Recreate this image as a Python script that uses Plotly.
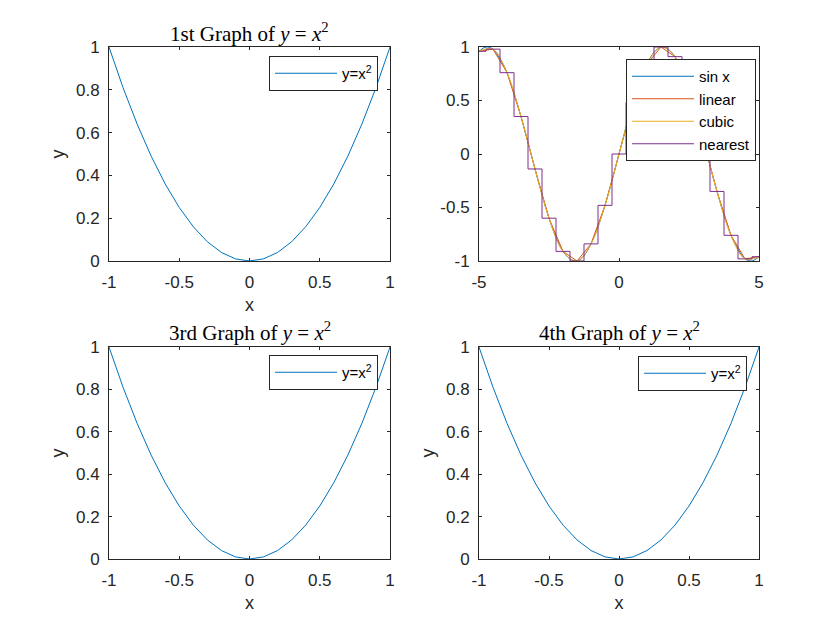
import plotly.graph_objects as go

# ---- data ----
x_sq = [-1.0, -0.9, -0.8, -0.7, -0.6, -0.5, -0.4, -0.3, -0.2, -0.1, 0.0,
        0.1, 0.2, 0.3, 0.4, 0.5, 0.6, 0.7, 0.8, 0.9, 1.0]
y_sq = [1.0, 0.81, 0.64, 0.49, 0.36, 0.25, 0.16, 0.09, 0.04, 0.01, 0.0,
        0.01, 0.04, 0.09, 0.16, 0.25, 0.36, 0.49, 0.64, 0.81, 1.0]

x_fine = [-5.0, -4.75, -4.5, -4.25, -4.0, -3.75, -3.5, -3.25, -3.0, -2.75, -2.5,
          -2.25, -2.0, -1.75, -1.5, -1.25, -1.0, -0.75, -0.5, -0.25, 0.0,
          0.25, 0.5, 0.75, 1.0, 1.25, 1.5, 1.75, 2.0, 2.25, 2.5,
          2.75, 3.0, 3.25, 3.5, 3.75, 4.0, 4.25, 4.5, 4.75, 5.0]
y_sin = [0.96, 1.00, 0.98, 0.89, 0.76, 0.57, 0.35, 0.11, -0.14, -0.38, -0.60,
         -0.78, -0.91, -0.98, -1.00, -0.95, -0.84, -0.68, -0.48, -0.25, 0.0,
         0.25, 0.48, 0.68, 0.84, 0.95, 1.00, 0.98, 0.91, 0.78, 0.60,
         0.38, 0.14, -0.11, -0.35, -0.57, -0.76, -0.89, -0.98, -1.00, -0.96]

x_coarse = [-5.0, -4.5, -4.0, -3.5, -3.0, -2.5, -2.0, -1.5, -1.0, -0.5, 0.0,
            0.5, 1.0, 1.5, 2.0, 2.5, 3.0, 3.5, 4.0, 4.5, 5.0]
y_coarse = [0.96, 0.98, 0.76, 0.35, -0.14, -0.60, -0.91, -1.00, -0.84, -0.48, 0.0,
            0.48, 0.84, 1.00, 0.91, 0.60, 0.14, -0.35, -0.76, -0.98, -0.96]

titles = ["1st Graph of <i>y</i> = <i>x</i><sup>2</sup>",
          "3rd Graph of <i>y</i> = <i>x</i><sup>2</sup>",
          "4th Graph of <i>y</i> = <i>x</i><sup>2</sup>"]
sq_ticks = [-1, -0.5, 0, 0.5, 1]
sq_yticks = [0, 0.2, 0.4, 0.6, 0.8, 1]
sin_xticks = [-5, 0, 5]
sin_yticks = [-1, -0.5, 0, 0.5, 1]

BLUE = "#0072BD"
RED = "#D95319"
YEL = "#EDB120"
PUR = "#7E2F8E"
AX = "#262626"
FONT = "Liberation Sans, Arial, sans-serif"

W, H = 840, 630
cols = [(109, 390), (479, 759)]
rows = [(47, 261), (347, 559)]

def dom_x(c):
    return [cols[c][0] / W, cols[c][1] / W]

def dom_y(r):
    return [1 - rows[r][1] / H, 1 - rows[r][0] / H]

fig = go.Figure()

# panel 1 (x,y)
fig.add_trace(go.Scatter(x=x_sq, y=y_sq, mode="lines", name="y=x<sup>2</sup>",
                         line=dict(color=BLUE, width=1), xaxis="x", yaxis="y",
                         legend="legend"))
# panel 2
fig.add_trace(go.Scatter(x=x_fine, y=y_sin, mode="lines", name="sin x",
                         line=dict(color=BLUE, width=1, shape="spline"),
                         xaxis="x2", yaxis="y2", legend="legend2"))
fig.add_trace(go.Scatter(x=x_coarse, y=y_coarse, mode="lines", name="linear",
                         line=dict(color=RED, width=1),
                         xaxis="x2", yaxis="y2", legend="legend2"))
fig.add_trace(go.Scatter(x=x_coarse, y=y_coarse, mode="lines", name="cubic",
                         line=dict(color=YEL, width=1, shape="spline"),
                         xaxis="x2", yaxis="y2", legend="legend2"))
fig.add_trace(go.Scatter(x=x_coarse, y=y_coarse, mode="lines", name="nearest",
                         line=dict(color=PUR, width=1, shape="hvh"),
                         xaxis="x2", yaxis="y2", legend="legend2"))
# panel 3
fig.add_trace(go.Scatter(x=x_sq, y=y_sq, mode="lines", name="y=x<sup>2</sup>",
                         line=dict(color=BLUE, width=1), xaxis="x3", yaxis="y3",
                         legend="legend3"))
# panel 4
fig.add_trace(go.Scatter(x=x_sq, y=y_sq, mode="lines", name="y=x<sup>2</sup>",
                         line=dict(color=BLUE, width=1), xaxis="x4", yaxis="y4",
                         legend="legend4"))

def axis(domain, anchor, rng, ticks, is_x, title=None):
    d = dict(domain=domain, anchor=anchor, range=rng, tickvals=ticks,
             ticktext=[("%g" % t) for t in ticks], automargin=False,
             showline=True, linecolor=AX, linewidth=1, mirror="ticks",
             ticks="inside", ticklen=3, tickcolor=AX, tickwidth=1,
             showgrid=False, zeroline=False,
             ticklabelstandoff=(6 if is_x else 5),
             tickfont=dict(family=FONT, size=17, color=AX))
    if title:
        d["title"] = dict(text=title, font=dict(family=FONT, size=18, color=AX),
                          standoff=(6 if is_x else 6))
    return d

layout_axes = dict(
    xaxis=axis(dom_x(0), "y", [-1, 1], sq_ticks, True, "x"),
    yaxis=axis(dom_y(0), "x", [0, 1], sq_yticks, False, "y"),
    xaxis2=axis(dom_x(1), "y2", [-5, 5], sin_xticks, True),
    yaxis2=axis(dom_y(0), "x2", [-1, 1], sin_yticks, False),
    xaxis3=axis(dom_x(0), "y3", [-1, 1], sq_ticks, True, "x"),
    yaxis3=axis(dom_y(1), "x3", [0, 1], sq_yticks, False, "y"),
    xaxis4=axis(dom_x(1), "y4", [-1, 1], sq_ticks, True, "x"),
    yaxis4=axis(dom_y(1), "x4", [0, 1], sq_yticks, False, "y"),
)

def leg(xr, yt):
    return dict(x=xr / W, y=1 - yt / H, xanchor="right", yanchor="top",
                bgcolor="white", bordercolor=AX, borderwidth=1,
                font=dict(family=FONT, size=15, color="black"),
                itemwidth=62, tracegroupgap=0)

title_specs = [(titles[0], (109 + 390) / 2, 32),
               (titles[1], (109 + 390) / 2, 331),
               (titles[2], (479 + 759) / 2, 331)]
annotations = []
for txt, cx, cy in title_specs:
    annotations.append(dict(text=txt, x=cx / W, y=1 - cy / H, xref="paper",
                            yref="paper", xanchor="center", yanchor="middle",
                            showarrow=False,
                            font=dict(family="Liberation Serif, Times New Roman, serif",
                                      size=21, color="black")))

fig.update_layout(
    width=W, height=H, margin=dict(l=0, r=0, t=0, b=0, autoexpand=False),
    paper_bgcolor="white", plot_bgcolor="white",
    showlegend=True,
    legend=leg(378, 56),
    legend2=leg(756, 59),
    legend3=leg(378, 355),
    legend4=leg(747, 356),
    annotations=annotations,
    **layout_axes,
)

fig.write_html("out.html")
